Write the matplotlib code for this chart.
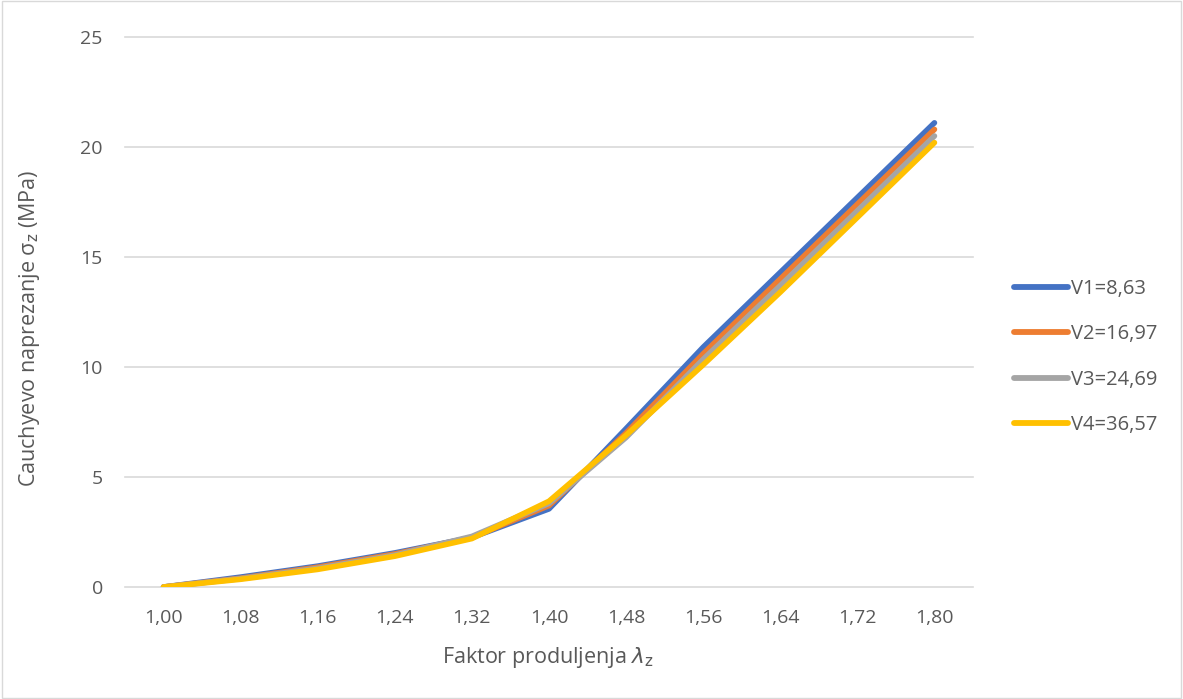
import numpy as np
import matplotlib
matplotlib.use("Agg")
import matplotlib.pyplot as plt

plt.rcParams['font.family'] = ['Open Sans', 'DejaVu Sans']

# categories on the x axis (Excel style category axis)
lambdas = ['1,00', '1,08', '1,16', '1,24', '1,32', '1,40', '1,48', '1,56', '1,64', '1,72', '1,80']

# Cauchy stress per variant
v1 = [0, 0.45, 0.95, 1.55, 2.25, 3.55, 7.2, 10.9, 14.3, 17.7, 21.1]
v2 = [0, 0.40, 0.90, 1.50, 2.25, 3.70, 7.0, 10.6, 14.0, 17.4, 20.8]
v3 = [0, 0.38, 0.85, 1.45, 2.30, 3.80, 6.8, 10.35, 13.7, 17.1, 20.5]
v4 = [0, 0.35, 0.80, 1.40, 2.20, 3.90, 6.9, 10.1, 13.4, 16.8, 20.2]
names = ['V1=8,63', 'V2=16,97', 'V3=24,69', 'V4=36,57']
colors = ['#4472C4', '#ED7D31', '#A5A5A5', '#FFC000']

txt = '#595959'
W, H = 1183, 699

fig = plt.figure(figsize=(W/100, H/100), dpi=100)
ax = fig.add_axes([125/W, 1 - 587/H, (973-125)/W, (587-37)/H])

x = np.arange(len(lambdas))
for ys, nm, c in zip([v1, v2, v3, v4], names, colors):
    ax.plot(x, ys, color=c, lw=4.0, label=nm, solid_capstyle='round', solid_joinstyle='round')

ax.set_xlim(-0.5, len(lambdas) - 0.5)
ax.set_ylim(0, 25)
ax.set_yticks([0, 5, 10, 15, 20, 25])
ax.set_xticks(x)
ax.set_xticklabels(lambdas)
ax.grid(axis='y', color='#D9D9D9', lw=1.2)
ax.set_axisbelow(True)
for gl in ax.get_ygridlines():
    gl.set_clip_on(False)
for s in ax.spines.values():
    s.set_visible(False)
ax.tick_params(length=0, labelsize=14, colors=txt)
ax.tick_params(axis='x', pad=16)
ax.tick_params(axis='y', pad=16)

ax.set_xlabel(r'Faktor produljenja $\lambda_\mathrm{z}$', fontsize=15.5, color=txt)
ax.set_ylabel(r'Cauchyevo naprezanje σ$_\mathrm{z}$ (MPa)', fontsize=15.5, color=txt)
ax.xaxis.set_label_coords(0.498, -0.105)
ax.yaxis.set_label_coords(-0.098, 0.47)

leg = fig.legend(loc='center left', bbox_to_anchor=(1014/W, 1 - 357/H), frameon=False,
                 fontsize=14.5, handlelength=2.7, handletextpad=0.15, labelspacing=1.25,
                 borderpad=0, borderaxespad=0)
for t in leg.get_texts():
    t.set_color(txt)
for ln in leg.get_lines():
    ln.set_linewidth(4.2)

# light border around the whole chart
fig.patches.append(plt.Rectangle((0.002, 0.002), 0.996, 0.996, transform=fig.transFigure,
                                 fill=False, edgecolor='#D9D9D9', lw=1))

fig.savefig('out.png', dpi=100)
